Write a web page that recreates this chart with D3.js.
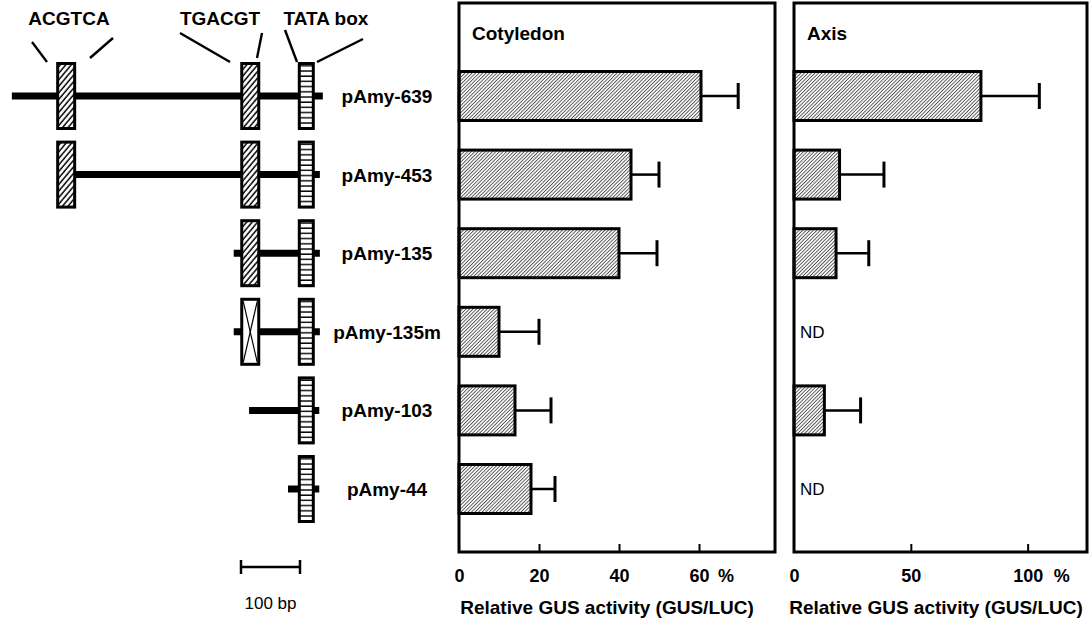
<!DOCTYPE html>
<html>
<head>
<meta charset="utf-8">
<script src="https://cdn.jsdelivr.net/npm/d3@7"></script>
<style>
  body { margin: 0; background: #fff; }
  svg { display: block; font-family: 'Liberation Sans', Arial, Helvetica, sans-serif; }
  .bold { font-weight: bold; }
</style>
</head>
<body>
<svg id="chart"></svg>
<script>
const width = 1092
const height = 623

// constructs, top to bottom
const constructs = ['pAmy-639', 'pAmy-453', 'pAmy-135', 'pAmy-135m', 'pAmy-103', 'pAmy-44']

// promoter schematic, positions in bp (relative to transcription start)
const lineStart = [-529, -437, -153, -153, -127, -61]
const lineEnd = [-2, -7, -7, -7, -8, -8]
const acgtca = [-437, -437, null, null, null, null]
const tgacgt = [-125, -125, -125, null, null, null]
const tgacgtMutated = [null, null, null, -125, null, null]
const tataBox = [-30, -30, -30, -30, -30, -30]

// relative GUS activity (GUS/LUC), %
const cotyledonMean = [60.5, 43, 40, 10, 14, 18]
const cotyledonErr = [9.3, 7, 9.5, 10, 9, 6]
const axisMean = [80, 19.5, 18, null, 13, null]
const axisErr = [25, 19, 14, null, 15.5, null]

const cotyledonTicks = [0, 20, 40, 60]
const axisTicks = [0, 50, 100]

const svg = d3.select('#chart').attr('width', width).attr('height', height)

const defs = svg.append('defs')

// dense hatch for the bars
defs.append('pattern')
  .attr('id', 'barHatch')
  .attr('width', 2.5).attr('height', 10)
  .attr('patternUnits', 'userSpaceOnUse')
  .attr('patternTransform', 'rotate(45)')
  .call(p => {
    p.append('rect').attr('width', 2.5).attr('height', 10).attr('fill', '#fff')
    p.append('line').attr('x1', 0.5).attr('x2', 0.5).attr('y1', 0).attr('y2', 10)
      .attr('stroke', '#222').attr('stroke-width', 0.8)
  })

// coarse hatch for the cis-element boxes
defs.append('pattern')
  .attr('id', 'boxHatch')
  .attr('width', 4.2).attr('height', 10)
  .attr('patternUnits', 'userSpaceOnUse')
  .attr('patternTransform', 'rotate(40)')
  .call(p => {
    p.append('rect').attr('width', 4.2).attr('height', 10).attr('fill', '#fff')
    p.append('line').attr('x1', 1).attr('x2', 1).attr('y1', 0).attr('y2', 10)
      .attr('stroke', '#000').attr('stroke-width', 1.5)
  })

// ladder stripes for the TATA box
defs.append('pattern')
  .attr('id', 'tataStripes')
  .attr('width', 20).attr('height', 5.2)
  .attr('patternUnits', 'userSpaceOnUse')
  .call(p => {
    p.append('rect').attr('width', 20).attr('height', 5.2).attr('fill', '#fff')
    p.append('line').attr('x1', 0).attr('x2', 20).attr('y1', 1).attr('y2', 1)
      .attr('stroke', '#000').attr('stroke-width', 1.4)
  })

const rowY = d3.scalePoint().domain(constructs).range([96, 489])

// ---------- promoter schematic ----------
const bpX = d3.scaleLinear().domain([-100, 0]).range([265, 324])
const boxH = 65

const rows = svg.selectAll('.construct')
  .data(constructs.map((name, i) => ({ name, i })))
  .enter()
  .append('g')
  .attr('class', 'construct')
  .attr('transform', d => `translate(0, ${rowY(d.name)})`)

rows.append('line')
  .attr('x1', d => bpX(lineStart[d.i]))
  .attr('x2', d => bpX(lineEnd[d.i]))
  .attr('stroke', '#000')
  .attr('stroke-width', 7)

const drawBox = (sel, pos, w, fill) => {
  sel.filter(d => pos[d.i] != null)
    .append('rect')
    .attr('x', d => bpX(pos[d.i]) - w / 2)
    .attr('y', -boxH / 2)
    .attr('width', w)
    .attr('height', boxH)
    .attr('fill', fill)
    .attr('stroke', '#000')
    .attr('stroke-width', 3)
}

drawBox(rows, acgtca, 17, 'url(#boxHatch)')
drawBox(rows, tgacgt, 17, 'url(#boxHatch)')
drawBox(rows, tgacgtMutated, 17, '#fff')
drawBox(rows, tataBox, 14, 'url(#tataStripes)')

// cross in the mutated element
rows.filter(d => tgacgtMutated[d.i] != null)
  .each(function (d) {
    const cx = bpX(tgacgtMutated[d.i])
    const g = d3.select(this)
    g.append('line').attr('x1', cx - 7).attr('x2', cx + 7).attr('y1', -boxH / 2 + 2).attr('y2', boxH / 2 - 2)
      .attr('stroke', '#000').attr('stroke-width', 1.2)
    g.append('line').attr('x1', cx + 7).attr('x2', cx - 7).attr('y1', -boxH / 2 + 2).attr('y2', boxH / 2 - 2)
      .attr('stroke', '#000').attr('stroke-width', 1.2)
  })

rows.append('text')
  .attr('class', 'bold')
  .attr('x', 387)
  .attr('y', 7)
  .attr('text-anchor', 'middle')
  .attr('font-size', 19)
  .text(d => d.name)

// element labels with leader lines
const elementLabels = [
  { text: 'ACGTCA', x: 69, lines: [[32, 42, 47, 62], [113, 38, 90, 58]] },
  { text: 'TGACGT', x: 220, lines: [[180, 33, 230, 62], [262, 33, 257, 58]] },
  { text: 'TATA box', x: 326, lines: [[285, 30, 297, 62], [363, 39, 317, 62]] },
]
elementLabels.forEach(l => {
  svg.append('text').attr('class', 'bold').attr('x', l.x).attr('y', 25)
    .attr('text-anchor', 'middle').attr('font-size', 19).text(l.text)
  l.lines.forEach(s => svg.append('line')
    .attr('x1', s[0]).attr('y1', s[1]).attr('x2', s[2]).attr('y2', s[3])
    .attr('stroke', '#000').attr('stroke-width', 2.4))
})

// 100 bp scale bar
const sbX0 = 241
const sbX1 = sbX0 + (bpX(0) - bpX(-100))
const sbY = 567
svg.append('line').attr('x1', sbX0).attr('x2', sbX1).attr('y1', sbY).attr('y2', sbY)
  .attr('stroke', '#000').attr('stroke-width', 2.5)
;[sbX0, sbX1].forEach(x => svg.append('line').attr('x1', x).attr('x2', x)
  .attr('y1', sbY - 7).attr('y2', sbY + 7).attr('stroke', '#000').attr('stroke-width', 2.5))
svg.append('text').attr('x', (sbX0 + sbX1) / 2).attr('y', 609).attr('text-anchor', 'middle')
  .attr('font-size', 17).text('100 bp')

// ---------- bar panels ----------
const panelTop = 3
const panelBottom = 552
const barH = 49

const panels = [
  { title: 'Cotyledon', x0: 459, x1: 775, max: 79, mean: cotyledonMean, err: cotyledonErr, ticks: cotyledonTicks, pct: 27, titleX: 607 },
  { title: 'Axis', x0: 794, x1: 1087, max: 125.4, mean: axisMean, err: axisErr, ticks: axisTicks, pct: 34, titleX: 936 },
]

panels.forEach(p => {
  const x = d3.scaleLinear().domain([0, p.max]).range([p.x0, p.x1])
  const g = svg.append('g')

  const data = constructs.map((name, i) => ({ name, v: p.mean[i], e: p.err[i] }))

  g.selectAll('.bar')
    .data(data.filter(d => d.v != null))
    .enter()
    .append('rect')
    .attr('x', x(0))
    .attr('y', d => rowY(d.name) - barH / 2)
    .attr('width', d => x(d.v) - x(0))
    .attr('height', barH)
    .attr('fill', 'url(#barHatch)')
    .attr('stroke', '#000')
    .attr('stroke-width', 3)

  const eb = g.selectAll('.err')
    .data(data.filter(d => d.v != null))
    .enter()
    .append('g')
  eb.append('line')
    .attr('x1', d => x(d.v)).attr('x2', d => x(d.v + d.e))
    .attr('y1', d => rowY(d.name)).attr('y2', d => rowY(d.name))
    .attr('stroke', '#000').attr('stroke-width', 2.5)
  eb.append('line')
    .attr('x1', d => x(d.v + d.e)).attr('x2', d => x(d.v + d.e))
    .attr('y1', d => rowY(d.name) - 13).attr('y2', d => rowY(d.name) + 13)
    .attr('stroke', '#000').attr('stroke-width', 3)

  g.selectAll('.nd')
    .data(data.filter(d => d.v == null))
    .enter()
    .append('text')
    .attr('x', x(0) + 6)
    .attr('y', d => rowY(d.name) + 6)
    .attr('font-size', 17)
    .text('ND')

  // frame
  g.append('rect')
    .attr('x', p.x0).attr('y', panelTop)
    .attr('width', p.x1 - p.x0).attr('height', panelBottom - panelTop)
    .attr('fill', 'none').attr('stroke', '#000').attr('stroke-width', 3)

  g.append('text').attr('class', 'bold')
    .attr('x', p.x0 + 13).attr('y', 40).attr('font-size', 19).text(p.title)

  const axis = d3.axisBottom(x).tickValues(p.ticks).tickSize(-8).tickPadding(17).tickFormat(d3.format('d'))
  const ax = g.append('g').attr('transform', `translate(0, ${panelBottom})`).call(axis)
  ax.attr('font-family', null).attr('font-size', null)
  ax.select('.domain').remove()
  ax.selectAll('.tick line').attr('stroke', '#000').attr('stroke-width', 2)
    .filter(d => d === 0).remove()
  ax.selectAll('.tick text').attr('class', 'bold').attr('font-size', 18).attr('fill', '#000')

  const last = p.ticks[p.ticks.length - 1]
  g.append('text').attr('class', 'bold')
    .attr('x', x(last) + p.pct).attr('y', panelBottom + 17).attr('dy', '0.71em')
    .attr('text-anchor', 'middle').attr('font-size', 18).text('%')

  g.append('text').attr('class', 'bold')
    .attr('x', p.titleX).attr('y', 614)
    .attr('text-anchor', 'middle').attr('font-size', 19)
    .text('Relative GUS activity (GUS/LUC)')
})
</script>
</body>
</html>
